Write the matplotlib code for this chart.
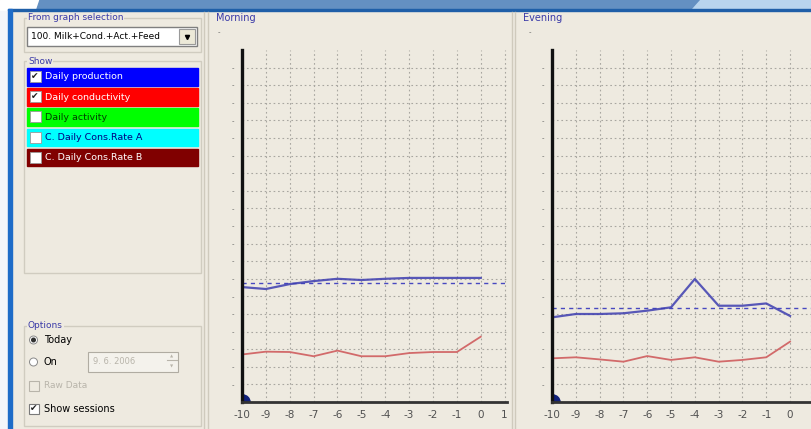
import matplotlib
matplotlib.use("Agg")
import matplotlib.pyplot as plt
from matplotlib.patches import Rectangle, Polygon, Circle

# ---- data ----
days = [-10, -9, -8, -7, -6, -5, -4, -3, -2, -1, 0]
morning_ticks = [-10, -9, -8, -7, -6, -5, -4, -3, -2, -1, 0, 1]
evening_ticks = [-10, -9, -8, -7, -6, -5, -4, -3, -2, -1, 0]

morning_prod = [6.53, 6.42, 6.70, 6.87, 7.00, 6.93, 7.00, 7.05, 7.05, 7.05, 7.05]
morning_prod_avg = 6.76
morning_cond = [2.70, 2.86, 2.84, 2.60, 2.92, 2.60, 2.60, 2.78, 2.84, 2.84, 3.71]

evening_prod = [4.81, 5.00, 5.00, 5.04, 5.19, 5.38, 6.99, 5.47, 5.47, 5.60, 4.89]
evening_prod_avg = 5.36
evening_cond = [2.48, 2.54, 2.42, 2.29, 2.61, 2.39, 2.54, 2.29, 2.39, 2.54, 3.43]

show_labels = ["Daily production", "Daily conductivity", "Daily activity",
               "C. Daily Cons.Rate A", "C. Daily Cons.Rate B"]
show_colors = ["#0000ff", "#ff0000", "#00ff00", "#00ffff", "#800000"]
show_text = ["white", "white", "#004000", "#000080", "white"]
show_checked = [True, True, False, False, False]

BG = "#eeeae0"
TITLE = "#3a3aa8"
W, H = 811, 429

plt.rcParams['font.family'] = ['DejaVu Sans']
fig = plt.figure(figsize=(W / 100, H / 100), dpi=100, facecolor=BG)

# full-figure pixel canvas for the window chrome
ui = fig.add_axes([0, 0, 1, 1])
ui.set_xlim(0, W)
ui.set_ylim(H, 0)
ui.axis("off")
ui.set_zorder(0)

# title bar strip
ui.add_patch(Rectangle((0, 0), W, 10, color="white"))
ui.add_patch(Polygon([(40, 0), (700, 0), (692, 9), (37, 9)], color="#6490c2"))
ui.add_patch(Polygon([(700, 0), (W, 0), (W, 9), (692, 9)], color="#b8d4ee"))
ui.add_patch(Rectangle((8, 9), W - 8, 2, color="#1f5fa8"))
ui.add_patch(Rectangle((0, 11), 8, H - 11, color="#f4f6fa"))
ui.add_patch(Rectangle((8, 9), 4, H - 9, color="#1e6cc8"))

# panel separators
for x in [204, 208, 512, 515]:
    ui.plot([x, x], [12, H], color="#cfcabd", lw=1)


def group_box(x0, y0, x1, y1, title):
    ui.add_patch(Rectangle((x0, y0), x1 - x0, y1 - y0, fill=False,
                           ec="#d0ccc0", lw=1))
    ui.text(x0 + 4, y0, title, fontsize=6.5, color=TITLE, va="center",
            ha="left", bbox=dict(fc=BG, ec="none", pad=0.5))


group_box(24, 18, 201, 52, "From graph selection")
group_box(24, 61, 201, 273, "Show")
group_box(24, 326, 201, 426, "Options")

# combo box
ui.add_patch(Rectangle((27, 27), 170, 19, fc="white", ec="#7f7f7f", lw=1))
ui.add_patch(Rectangle((179, 29), 16, 15, fc="#ece9d8", ec="#9a9a9a", lw=0.8))
ui.plot([187], [36.5], marker="v", ms=3, color="black")
ui.text(31, 36.5, "100. Milk+Cond.+Act.+Feed", fontsize=6.5, va="center", color="black")

# "Show" colour list
for i, (lab, col, tcol, chk) in enumerate(zip(show_labels, show_colors,
                                              show_text, show_checked)):
    y = 68 + i * 20.2
    ui.add_patch(Rectangle((27, y), 171, 17.5, color=col))
    ui.add_patch(Rectangle((29.5, y + 3), 11, 11, fc="white", ec="#9a9a9a", lw=0.6))
    if chk:
        ui.text(35, y + 8.5, "\u2714", fontsize=6.5, ha="center", va="center",
                color="#202020")
    ui.text(45, y + 8.8, lab, fontsize=6.8, va="center", color=tcol)

# options
ui.add_patch(Circle((33.5, 340), 4, fc="white", ec="#8a8a8a", lw=0.7))
ui.add_patch(Circle((33.5, 340), 1.8, color="#303030"))
ui.text(44, 340, "Today", fontsize=7, va="center", color="black")
ui.add_patch(Circle((33.5, 362), 4, fc="white", ec="#8a8a8a", lw=0.7))
ui.text(44, 362, "On", fontsize=7, va="center", color="black")
ui.add_patch(Rectangle((88, 352), 90, 20, fc="#f4f2ec", ec="#b0aca2", lw=0.8))
ui.text(93, 362, "9. 6. 2006", fontsize=6, va="center", color="#b8b4aa")
ui.plot([167, 177], [360, 360], color="#b8b4aa", lw=0.8)
ui.text(172, 357, "\u25b2", fontsize=3, ha="center", va="center", color="#b8b4aa")
ui.text(172, 366, "\u25bc", fontsize=3, ha="center", va="center", color="#b8b4aa")
ui.add_patch(Rectangle((29, 381), 10, 10, fc=BG, ec="#b8b4aa", lw=0.8))
ui.text(44, 386, "Raw Data", fontsize=6.5, va="center", color="#b8b4aa")
ui.add_patch(Rectangle((29, 404), 10, 10, fc="white", ec="#7a7a7a", lw=0.8))
ui.text(34, 409, "\u2714", fontsize=6.5, ha="center", va="center", color="#202020")
ui.text(44, 409, "Show sessions", fontsize=7, va="center", color="black")

# panel titles
ui.text(216, 18, "Morning", fontsize=7, va="center", color=TITLE)
ui.text(523, 18, "Evening", fontsize=7, va="center", color=TITLE)


def chart(x_left, x_right, xmax, ticks, prod, avg, cond):
    ax = fig.add_axes([x_left / W, (H - 402) / H, (x_right - x_left) / W, 352 / H])
    ax.set_facecolor("none")
    ax.set_xlim(-10, xmax)
    ax.set_ylim(0, 20)
    for s in ["top", "right"]:
        ax.spines[s].set_visible(False)
    ax.spines["left"].set_linewidth(2.4)
    ax.spines["left"].set_color("#111111")
    ax.spines["bottom"].set_linewidth(2.0)
    ax.spines["bottom"].set_color("#333333")
    ax.set_xticks(ticks)
    ax.set_xticklabels([str(d) for d in ticks], fontsize=7.5, color="#505050")
    ax.set_yticks(range(1, 20))
    ax.set_yticklabels(["-"] * 19, fontsize=5, color="#606060")
    ax.tick_params(length=0, pad=6)
    ax.grid(True, color="#a8a6a0", lw=0.8, ls=(0, (1.5, 2.5)))
    # vertical grid line at x=1 when it is past the visible range
    if xmax < 1:
        ax.axvline(xmax, color="#a8a6a0", lw=0.8, ls=(0, (1.5, 2.5)))
    ax.text(-0.09, 1.045, "-", transform=ax.transAxes, fontsize=5, color="#606060")

    ax.axhline(avg, color="#4848c0", lw=1.0, ls=(0, (3, 3)))
    ax.plot(days, prod, color="#3d3db0", lw=1.6, alpha=0.85)
    ax.plot(days, cond, color="#d26a6a", lw=1.3)
    ax.plot([-10], [0], marker="o", ms=11, color="#10207a", clip_on=True)
    return ax


chart(242, 507, 1.1, morning_ticks, morning_prod, morning_prod_avg, morning_cond)
chart(552, 811, 0.88, evening_ticks, evening_prod, evening_prod_avg, evening_cond)

fig.savefig("out.png", dpi=100, facecolor=BG)
